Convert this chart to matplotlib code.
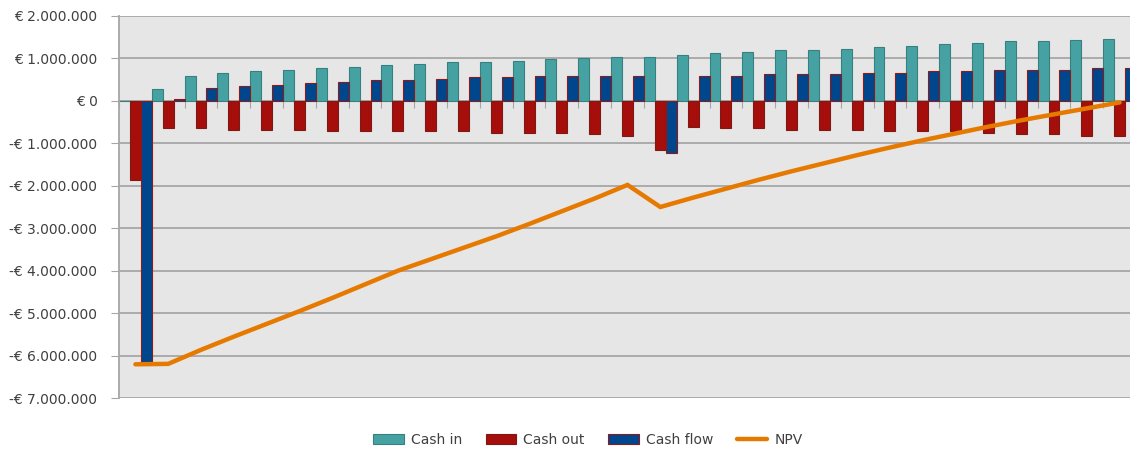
import numpy as np
import matplotlib.pyplot as plt
from matplotlib.ticker import FuncFormatter

# values (in million euro), one per period 0..30
cash_in = [0.00, 0.27, 0.58, 0.66, 0.70, 0.73, 0.76, 0.80, 0.83, 0.86,
           0.90, 0.90, 0.94, 0.97, 1.01, 1.04, 1.04, 1.08, 1.12, 1.15,
           1.19, 1.19, 1.22, 1.26, 1.29, 1.33, 1.36, 1.40, 1.40, 1.43, 1.46]
cash_out = [-1.87, -0.65, -0.65, -0.69, -0.69, -0.69, -0.72, -0.72, -0.72, -0.72,
            -0.72, -0.75, -0.75, -0.75, -0.79, -0.83, -1.17, -0.61, -0.65, -0.65,
            -0.69, -0.69, -0.69, -0.72, -0.72, -0.72, -0.75, -0.79, -0.79, -0.82, -0.82]
cash_flow = [-6.14, 0.04, 0.31, 0.35, 0.38, 0.42, 0.45, 0.49, 0.49, 0.52,
             0.56, 0.56, 0.59, 0.59, 0.59, 0.59, -1.24, 0.59, 0.59, 0.63,
             0.63, 0.63, 0.66, 0.66, 0.70, 0.70, 0.73, 0.73, 0.73, 0.76, 0.76]
npv = [-6.20, -6.19, -5.86, -5.55, -5.25, -4.95, -4.64, -4.32, -4.00, -3.73,
       -3.46, -3.19, -2.90, -2.60, -2.30, -1.98, -2.50, -2.28, -2.07, -1.86,
       -1.66, -1.47, -1.28, -1.10, -0.93, -0.77, -0.61, -0.46, -0.32, -0.18, -0.04]

labels = ["Cash in", "Cash out", "Cash flow", "NPV"]

plt.rcParams['font.family'] = ['DejaVu Sans']

x = np.arange(len(cash_in))
m = 1e6
w = 1 / 3

fig = plt.figure(figsize=(11.3, 4.5), dpi=100)
# plot area runs a bit past the right edge, like the cropped original
ax = fig.add_axes([119 / 1130, 51.7 / 450, 1017 / 1130, 382.6 / 450])
ax.set_facecolor('#e6e6e6')

b1 = ax.bar(x - w, np.array(cash_in) * m, width=w, color='#46a2a2',
            edgecolor='#37807f', linewidth=0.8, zorder=2)
b2 = ax.bar(x, np.array(cash_out) * m, width=w, color='#a50e0a',
            edgecolor='#7e1a16', linewidth=0.8, zorder=2)
b3 = ax.bar(x + w, np.array(cash_flow) * m, width=w, color='#00468c',
            edgecolor='#8c1a1a', linewidth=0.8, zorder=2)
l1, = ax.plot(x, np.array(npv) * m, color='#e67a00', linewidth=3.2,
              solid_capstyle='round', solid_joinstyle='miter', zorder=3)

ax.set_xlim(-0.5, len(x) - 0.5)
ax.set_ylim(-7e6, 2e6)
ax.set_yticks(np.arange(-7e6, 2.1e6, 1e6))


def euro(v, pos):
    s = f"{abs(v):,.0f}".replace(",", ".")
    if v < 0:
        return "-€ " + s
    return "€ " + s


ax.yaxis.set_major_formatter(FuncFormatter(euro))
ax.grid(axis='y', color='#a6a6a6', linewidth=1.3, zorder=0)
ax.set_axisbelow(True)

# category axis sits on zero with ticks between the groups
ax.spines['bottom'].set_position(('data', 0))
ax.spines['bottom'].set_color('#a6a6a6')
ax.spines['bottom'].set_linewidth(1.3)
ax.spines['bottom'].set_zorder(1)
ax.set_xticks(np.arange(-0.5, len(x), 1))
ax.tick_params(axis='x', length=5, color='#a6a6a6', labelbottom=False)
ax.spines['left'].set_color('#a6a6a6')
ax.spines['left'].set_linewidth(1.3)
ax.spines['top'].set_visible(False)
ax.spines['right'].set_visible(False)
ax.tick_params(axis='y', length=6, color='#a6a6a6', labelsize=10,
               labelcolor='#404040', pad=9.5)

fig.legend([b1, b2, b3, l1], labels, loc='center',
           bbox_to_anchor=(588 / 1130, 10 / 450), ncol=4,
           frameon=False, fontsize=10, handlelength=2.2, handleheight=0.75,
           handletextpad=0.5, columnspacing=1.7, labelcolor='#404040')

fig.savefig('out.png', dpi=100)
